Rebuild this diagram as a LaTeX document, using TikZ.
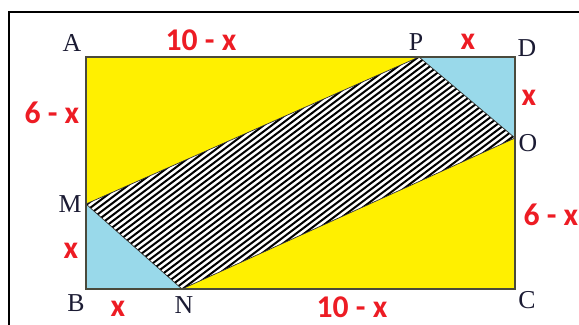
\documentclass[tikz,border=0pt]{standalone}
\usepackage{fontspec}
\setmainfont{Liberation Serif}
\newfontfamily\labfont{Carlito}
\usetikzlibrary{positioning,calc}
\definecolor{Ink}{HTML}{1B1B33}
\definecolor{Frame}{HTML}{4A4A3C}
\definecolor{Sun}{HTML}{FFF000}
\definecolor{Sky}{HTML}{99D9EA}
\definecolor{Mark}{HTML}{ED1C24}
\tikzset{
  vertex/.style={text=Ink,font=\fontsize{22}{24}\selectfont,inner sep=0pt},
  lenlabel/.style={text=Mark,font=\labfont\bfseries\fontsize{27}{29}\selectfont,inner sep=0pt},
  stripe/.style={black,line width=1.7pt}
}
\begin{document}
\begin{tikzpicture}[x=.03cm,y=-.03cm]
\clip (0,0) rectangle (579,324);
\fill[white] (0,0) rectangle (579,324);
\draw[black,line width=1.1pt] (9,12) rectangle (600,340);
% corners of the rectangle and the points on its sides
\coordinate (A) at (86,57);
\coordinate (D) at (515,57);
\coordinate (C) at (515,289);
\coordinate (B) at (86,289);
\coordinate (P) at (419,57);
\coordinate (O) at (515,138);
\coordinate (M) at (86,204);
\coordinate (N) at (182,289);
\fill[Sun] (A) rectangle (C);
\fill[Sky] (P) -- (D) -- (O) -- cycle;
\fill[Sky] (M) -- (B) -- (N) -- cycle;
\begin{scope}
  \clip (M) -- (P) -- (O) -- (N) -- cycle;
  \fill[white] (M) -- (P) -- (O) -- (N) -- cycle;
  \foreach \i in {-70,...,90}
    \draw[stripe] (\i*8,300) -- (\i*8+398,0);
\end{scope}
\draw[black!80,line width=.6pt] (M) -- (P) -- (O) -- (N) -- cycle;
\draw[Frame,line width=1.3pt] (A) rectangle (C);
% vertex names
\node[vertex] (lA) at (72,43) {A};
\node[vertex] (lP) at (416,42) {P};
\node[vertex] (lD) at (527,48) {D};
\node[vertex] (lO) at (528,143) {O};
\node[vertex] (lM) at (70,204) {M};
\node[vertex] (lB) at (76,303) {B};
\node[vertex] (lN) at (184,305) {N};
\node[vertex] (lC) at (527,300) {C};
% side lengths
\node[lenlabel] (top) at (201,40) {10 - x};
\node[lenlabel] (pd) at (468,42) {x};
\node[lenlabel] (am) at (52,113) {6 - x};
\node[lenlabel] (dO) at (529,98) {x};
\node[lenlabel] (mb) at (71,251) {x};
\node[lenlabel] (bn) at (118,309) {x};
\node[lenlabel] (bottom) at (352,307) {10 - x};
\node[lenlabel] (oc) at (551,215) {6 - x};
\end{tikzpicture}
\end{document}
